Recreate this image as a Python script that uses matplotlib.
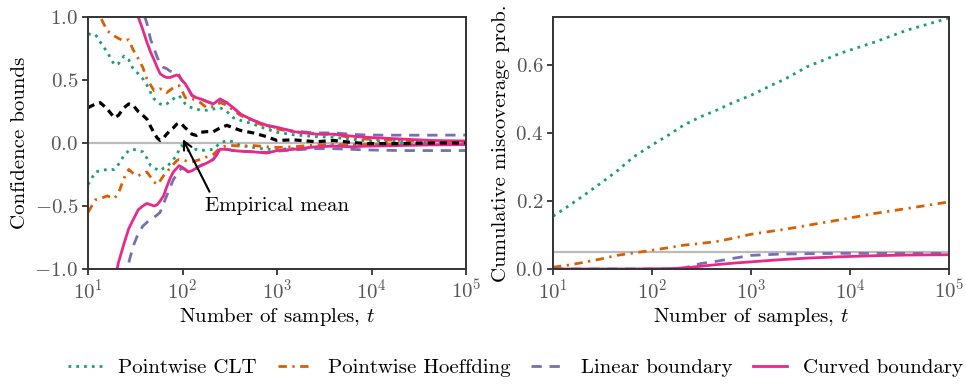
import numpy as np
import matplotlib
matplotlib.use('Agg')
import matplotlib.pyplot as plt

plt.rcParams['font.family'] = 'serif'
plt.rcParams['font.serif'] = ['cmr10']
plt.rcParams['mathtext.fontset'] = 'cm'
plt.rcParams['axes.formatter.use_mathtext'] = True
plt.rcParams['axes.unicode_minus'] = True

# colours (Dark2)
c_clt, c_hoef, c_lin, c_curv = '#1b9e77', '#d95f02', '#7570b3', '#e7298a'
fs = 15

# ---- left panel: running bounds ----
t_left = [10, 12, 13.5, 16, 19, 21, 24, 27, 30, 34, 38, 42, 46, 50, 54, 58, 63, 68, 74, 80,
          87, 92, 98, 107, 115, 126, 140, 155, 180, 212, 250, 295, 345, 410, 560, 780,
          1000, 1500, 2600, 4000, 6000, 9000, 20000, 45000, 100000]

emp_mean = [0.28, 0.31, 0.32, 0.27, 0.20, 0.22, 0.28, 0.31, 0.30, 0.25, 0.22, 0.19, 0.13, 0.08,
            0.04, 0.02, 0.04, 0.07, 0.10, 0.12, 0.15, 0.16, 0.15, 0.12, 0.10, 0.07, 0.06, 0.085,
            0.09, 0.09, 0.12, 0.14, 0.12, 0.10, 0.08, 0.05, 0.02, 0.025, 0.01, 0.02, 0.005,
            -0.005, -0.005, 0.0, 0.0]

clt_up = [0.865, 0.86, 0.80, 0.72, 0.62, 0.63, 0.69, 0.66, 0.59, 0.55, 0.51, 0.46, 0.40, 0.35,
          0.33, 0.31, 0.30, 0.31, 0.33, 0.35, 0.37, 0.375, 0.35, 0.31, 0.29, 0.28, 0.27, 0.26,
          0.26, 0.27, 0.28, 0.25, 0.20, 0.18, 0.15, 0.11, 0.085, 0.065, 0.05, 0.045, 0.03,
          0.018, 0.012, 0.008, 0.006]
clt_lo = [-0.33, -0.23, -0.22, -0.21, -0.21, -0.17, -0.10, -0.06, -0.05, -0.06, -0.07, -0.12,
          -0.18, -0.20, -0.21, -0.22, -0.20, -0.19, -0.16, -0.13, -0.10, -0.05, -0.02, -0.04,
          -0.06, -0.06, -0.05, -0.06, -0.055, -0.05, 0.0, 0.02, 0.01, -0.02, -0.035, -0.05,
          -0.05, -0.045, -0.035, -0.02, -0.02, -0.015, -0.01, -0.006, -0.005]

hoef_up = [1.25, 1.1, 1.0, 0.89, 0.85, 0.83, 0.81, 0.82, 0.74, 0.67, 0.60, 0.51, 0.46, 0.415,
           0.42, 0.43, 0.42, 0.40, 0.42, 0.44, 0.45, 0.455, 0.42, 0.36, 0.35, 0.35, 0.34, 0.32,
           0.28, 0.29, 0.32, 0.30, 0.26, 0.22, 0.17, 0.13, 0.11, 0.09, 0.075, 0.065, 0.045,
           0.03, 0.02, 0.012, 0.01]
hoef_lo = [-0.55, -0.45, -0.44, -0.42, -0.44, -0.40, -0.28, -0.21, -0.24, -0.26, -0.24, -0.23,
           -0.27, -0.31, -0.33, -0.30, -0.26, -0.23, -0.20, -0.17, -0.14, -0.13, -0.13, -0.14,
           -0.15, -0.15, -0.14, -0.13, -0.11, -0.09, -0.04, -0.02, -0.02, -0.025, -0.02, -0.03,
           -0.035, -0.03, -0.015, -0.01, -0.015, -0.012, -0.01, -0.007, -0.005]

lin_up = [2.5, 2.3, 2.1, 1.9, 1.7, 1.6, 1.45, 1.35, 1.25, 1.15, 1.05, 0.95, 0.82, 0.75, 0.68,
          0.63, 0.60, 0.59, 0.57, 0.56, 0.56, 0.54, 0.50, 0.47, 0.43, 0.38, 0.36, 0.35, 0.33,
          0.31, 0.34, 0.32, 0.28, 0.23, 0.18, 0.14, 0.12, 0.095, 0.08, 0.08, 0.07, 0.063,
          0.062, 0.062, 0.063]
lin_lo = [-2.5, -2.2, -2.0, -1.75, -1.5, -1.35, -1.1, -0.95, -0.82, -0.72, -0.66, -0.63, -0.60,
          -0.59, -0.57, -0.55, -0.48, -0.42, -0.35, -0.29, -0.25, -0.22, -0.20, -0.21, -0.23,
          -0.22, -0.20, -0.18, -0.16, -0.13, -0.06, -0.05, -0.06, -0.065, -0.07, -0.075,
          -0.065, -0.055, -0.045, -0.045, -0.05, -0.055, -0.06, -0.06, -0.06]

curv_up = [2.2, 2.0, 1.85, 1.7, 1.5, 1.42, 1.3, 1.2, 1.1, 1.0, 0.9, 0.8, 0.72, 0.66, 0.60, 0.55,
           0.53, 0.52, 0.52, 0.53, 0.54, 0.53, 0.50, 0.47, 0.43, 0.375, 0.36, 0.35, 0.33, 0.31,
           0.35, 0.32, 0.28, 0.23, 0.18, 0.14, 0.125, 0.09, 0.07, 0.07, 0.055, 0.045, 0.032,
           0.02, 0.016]
curv_lo = [-2.0, -1.8, -1.65, -1.4, -1.1, -0.95, -0.80, -0.68, -0.61, -0.53, -0.50, -0.48,
           -0.49, -0.50, -0.49, -0.46, -0.42, -0.35, -0.28, -0.23, -0.20, -0.18, -0.19, -0.21,
           -0.23, -0.22, -0.20, -0.18, -0.16, -0.13, -0.05, -0.05, -0.06, -0.065, -0.07, -0.08,
           -0.06, -0.05, -0.03, -0.025, -0.03, -0.025, -0.02, -0.015, -0.013]

# ---- right panel: cumulative miscoverage ----
t_right = [10, 14, 20, 30, 44, 65, 100, 150, 210, 310, 455, 650, 1000, 1700, 2150, 3700,
           8100, 17600, 38300, 100000]
miss_clt = [0.155, 0.183, 0.214, 0.251, 0.287, 0.329, 0.364, 0.395, 0.423, 0.447, 0.467,
            0.488, 0.51, 0.543, 0.556, 0.594, 0.634, 0.666, 0.702, 0.737]
miss_hoef = [0.005, 0.011, 0.019, 0.029, 0.040, 0.047, 0.055, 0.063, 0.070, 0.075, 0.081,
             0.090, 0.102, 0.112, 0.116, 0.128, 0.145, 0.163, 0.178, 0.197]
miss_lin = [0, 0, 0, 0, 0, 0, 0, 0, 0.003, 0.016, 0.023, 0.031, 0.040, 0.043, 0.044, 0.045,
            0.046, 0.046, 0.046, 0.046]
miss_curv = [0, 0, 0, 0, 0, 0, 0.0005, 0.001, 0.003, 0.008, 0.013, 0.017, 0.021, 0.026, 0.028,
             0.032, 0.036, 0.039, 0.041, 0.042]
alpha = 0.05

# line styles
st_clt = dict(color=c_clt, ls=(0, (1, 1.8)))
st_hoef = dict(color=c_hoef, ls=(0, (3, 2, 0.8, 2)))
st_lin = dict(color=c_lin, ls=(0, (3.7, 2.8)))
st_curv = dict(color=c_curv, ls='-')

fig = plt.figure(figsize=(9.66, 3.85), dpi=100)
ax1 = fig.add_axes([88 / 966, 116 / 385, 378 / 966, 252 / 385])
ax2 = fig.add_axes([553 / 966, 116 / 385, 396 / 966, 252 / 385])

lw = 2.0
ax1.axhline(0, color='#bbbbbb', lw=1.6, zorder=0)
ax1.plot(t_left, clt_up, lw=lw, **st_clt)
ax1.plot(t_left, clt_lo, lw=lw, **st_clt)
ax1.plot(t_left, hoef_up, lw=lw, **st_hoef)
ax1.plot(t_left, hoef_lo, lw=lw, **st_hoef)
ax1.plot(t_left, lin_up, lw=lw, **st_lin)
ax1.plot(t_left, lin_lo, lw=lw, **st_lin)
ax1.plot(t_left, curv_up, lw=lw, **st_curv)
ax1.plot(t_left, curv_lo, lw=lw, **st_curv)
ax1.plot(t_left, emp_mean, '--', color='black', lw=2.3, dashes=(2.2, 1.6))
ax1.annotate('Empirical mean', xy=(101, 0.03), xytext=(173, -0.5), va='center', fontsize=fs,
             arrowprops=dict(arrowstyle='->', color='black', lw=1.5, relpos=(0.05, 1.0),
                             shrinkA=2, shrinkB=0, mutation_scale=15))
ax1.set_xscale('log')
ax1.set_xlim(10, 1e5)
ax1.set_ylim(-1, 1)
ax1.set_yticks([-1, -0.5, 0, 0.5, 1])
ax1.set_ylabel('Confidence bounds')

ax2.axhline(alpha, color='#bbbbbb', lw=1.6, zorder=0)
ax2.plot(t_right, miss_clt, lw=lw, label='Pointwise CLT', **st_clt)
ax2.plot(t_right, miss_hoef, lw=lw, label='Pointwise Hoeffding', **st_hoef)
ax2.plot(t_right, miss_lin, lw=lw, label='Linear boundary', **st_lin)
ax2.plot(t_right, miss_curv, lw=lw, label='Curved boundary', **st_curv)
ax2.set_xscale('log')
ax2.set_xlim(10, 1e5)
ax2.set_ylim(0, 0.74)
ax2.set_yticks([0, 0.2, 0.4, 0.6])
ax2.set_ylabel('Cumulative miscoverage prob.')

for ax in (ax1, ax2):
    ax.set_xlabel('Number of samples, $t$', labelpad=2)
    ax.xaxis.label.set_size(fs)
    ax.yaxis.label.set_size(fs)
    ax.tick_params(which='major', length=4, width=1.3, color='#333333',
                   labelcolor='#555555', labelsize=fs, pad=3)
    ax.tick_params(which='minor', length=0)
    for s in ax.spines.values():
        s.set_color('#333333')
        s.set_linewidth(1.4)

fig.legend(*ax2.get_legend_handles_labels(), loc='center', ncol=4,
           bbox_to_anchor=(0.534, 0.045), frameon=False, fontsize=fs,
           handlelength=1.6, handletextpad=0.8, columnspacing=1.0)

fig.savefig('out.png', dpi=100)
